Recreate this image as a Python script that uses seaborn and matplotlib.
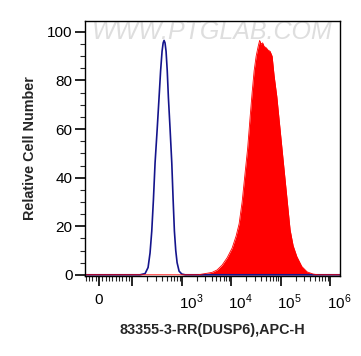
import numpy as np
import pandas as pd
import matplotlib
matplotlib.use('Agg')
import matplotlib.pyplot as plt
import matplotlib.transforms as mtransforms
import seaborn as sns

# 同型对照（蓝线）
ctrl_x = [-42, 143, 181, 208, 228, 247, 267, 288, 318, 347, 373, 399, 420, 438,
          458, 481, 508, 536, 580, 628, 668, 709, 755, 804, 882, 1000, 1166, 1580000]
ctrl_y = [0, 0, 0.5, 3, 9, 18, 31, 46, 60, 73, 84, 92, 95.5, 96.5,
          95.5, 92, 84, 73, 60, 46, 31, 18, 10, 5, 1.5, 0.3, 0, 0]

# 样本（红色填充）
samp_x = [-42, 2138, 2965, 4105, 5183, 6546, 8260, 10430, 12570, 14450, 16630, 19100, 21480,
          24140, 26490, 29090, 31920, 35060, 37580, 40280, 43220, 46340, 50820, 55830, 61230,
          67300, 73800, 83750, 97720, 114000, 133600, 155600, 179100, 212800, 268500, 343600,
          454900, 574100, 1580000]
samp_y = [0, 0, 0.5, 1, 2, 4, 7, 11, 16, 21, 30, 42, 52,
          65, 75, 84, 90, 94, 96.5, 95, 95.5, 94, 93.5, 92.5, 92,
          90, 82, 73.4, 59.7, 46, 32, 18.5, 12, 7.5, 3.4, 1.2,
          0.3, 0, 0]

xticks = [0, 100, 1000, 10000, 100000, 1000000]
xlabels = ['0', '', '$10^3$', '$10^4$', '$10^5$', '$10^6$']

sns.set_style('ticks')
plt.rcParams['font.family'] = ['Liberation Sans', 'DejaVu Sans']
plt.rcParams['mathtext.fontset'] = 'custom'
plt.rcParams['mathtext.rm'] = 'Liberation Sans'

fig = plt.figure(figsize=(3.61, 3.56), dpi=100)
ax = fig.add_axes([0.2355, 0.2247, 0.706, 0.717])

ax.set_xscale('symlog', linthresh=100, linscale=0.607)

ax.fill_between(samp_x, samp_y, 0, color='#ff0000', lw=0)
sns.lineplot(x=ctrl_x, y=ctrl_y, color='#14148c', lw=1.2, ax=ax, sort=False)
sns.lineplot(x=samp_x, y=samp_y, color='#ff0000', lw=0.6, ax=ax, sort=False)

ax.set_xlim(-42, 1580000)
ax.set_ylim(-0.5, 104.6)

ax.set_xticks(xticks)
ax.set_xticklabels(xlabels)
minor = [-40, -30, -20, -10, 10, 20, 30, 40, 50, 60, 70, 80, 90]
for k in [100, 1000, 10000, 100000]:
    minor += [k * m for m in range(2, 10)]
ax.set_xticks(minor, minor=True)
ax.set_yticks([0, 20, 40, 60, 80, 100])
ax.set_yticks(np.arange(0, 101, 5), minor=True)

ax.tick_params(axis='both', which='major', direction='out', length=7, width=1.2,
               labelsize=11, colors='black')
ax.tick_params(axis='both', which='minor', direction='out', length=3.5, width=0.8)
ax.tick_params(axis='x', which='major', pad=5)
ax.tick_params(axis='y', which='major', pad=2)

# 把x轴的10^n标签往右挪一点
off = mtransforms.ScaledTranslation(9 / 100, 0, fig.dpi_scale_trans)
for lab in ax.get_xticklabels()[2:]:
    lab.set_transform(lab.get_transform() + off)

for s in ax.spines.values():
    s.set_color('black')
    s.set_linewidth(1.0)

ax.set_xlabel('83355-3-RR(DUSP6),APC-H', fontsize=10.4, fontweight='bold', labelpad=8)
ax.set_ylabel('Relative Cell Number', fontsize=10.4, fontweight='bold', labelpad=7)

# 水印
ax.text(0.5, 0.955, 'WWW.PTGLAB.COM', transform=ax.transAxes, ha='center', va='center',
        fontsize=18, color='#dedede', style='italic', zorder=0)

plt.savefig('out.png', dpi=100)
